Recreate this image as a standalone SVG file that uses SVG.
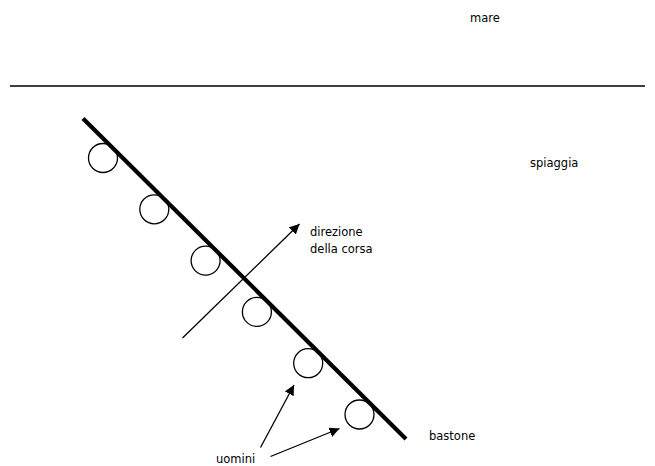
<svg xmlns="http://www.w3.org/2000/svg" width="655" height="466" viewBox="0 0 655 466">
  <defs>
    <marker id="arrow" viewBox="0 0 10 10" refX="10" refY="5" markerWidth="10" markerHeight="10" markerUnits="userSpaceOnUse" orient="auto">
      <path d="M0,0 L10,5 L0,10 z" fill="#000"/>
    </marker>
    <style>
      text { font-family: "DejaVu Sans", "Liberation Sans", sans-serif; font-size: 11.5px; fill: #000; }
      .man { fill: #fff; stroke: #000; stroke-width: 1.3; }
      .thin { stroke: #000; stroke-width: 1.3; fill: none; }
    </style>
  </defs>
  <rect width="655" height="466" fill="#fff"/>

  <!-- shoreline -->
  <line class="thin" x1="10" y1="86" x2="645" y2="86"/>

  <!-- men along the stick -->
  <g id="men">
    <circle class="man" cx="103" cy="158" r="14.5"/>
    <circle class="man" cx="154.3" cy="209.3" r="14.5"/>
    <circle class="man" cx="205.6" cy="260.6" r="14.5"/>
    <circle class="man" cx="256.9" cy="311.9" r="14.5"/>
    <circle class="man" cx="308.2" cy="363.2" r="14.5"/>
    <circle class="man" cx="359.5" cy="414.5" r="14.5"/>
  </g>

  <!-- stick -->
  <g id="stick">
    <line x1="83" y1="118.5" x2="406" y2="439" stroke="#000" stroke-width="4.2"/>
  </g>

  <g id="connectors">
    <line class="thin" x1="182.5" y1="338" x2="299.5" y2="224" marker-end="url(#arrow)"/>
    <line class="thin" x1="260.5" y1="447.5" x2="294" y2="385" marker-end="url(#arrow)"/>
    <line class="thin" x1="270.5" y1="456.5" x2="339.5" y2="428.5" marker-end="url(#arrow)"/>
  </g>

  <g id="labels">
    <text x="470" y="22">mare</text>
    <text x="530" y="166.5">spiaggia</text>
    <text x="310" y="236">direzione</text>
    <text x="310" y="252.5">della corsa</text>
    <text x="429" y="440">bastone</text>
    <text x="216" y="463">uomini</text>
  </g>
</svg>
